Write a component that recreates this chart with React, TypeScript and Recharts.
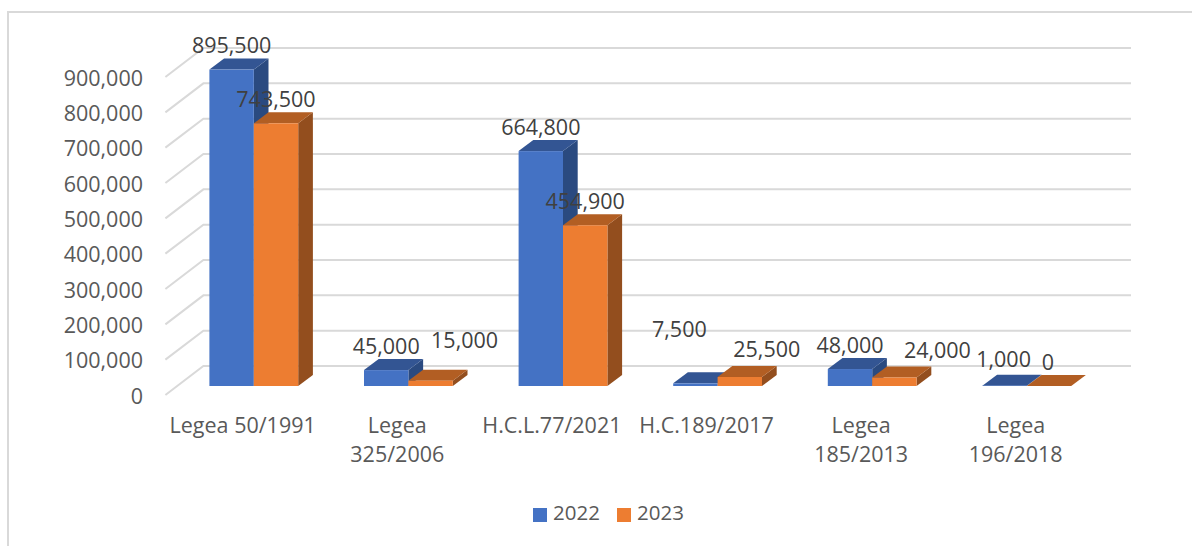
import { BarChart, Bar, XAxis, YAxis, CartesianGrid, Legend, LabelList } from 'recharts';

const categories = [
  'Legea 50/1991',
  'Legea\n325/2006',
  'H.C.L.77/2021',
  'H.C.189/2017',
  'Legea\n185/2013',
  'Legea\n196/2018',
];
const values2022 = [895500, 45000, 664800, 7500, 48000, 1000];
const values2023 = [743500, 15000, 454900, 25500, 24000, 0];
const yTicks = [0, 100000, 200000, 300000, 400000, 500000, 600000, 700000, 800000, 900000];

const chartData = categories.map((name, i) => ({
  name,
  y2022: values2022[i],
  y2023: values2023[i],
}));

const FONT = '"Open Sans", sans-serif';
const FONT_SIZE = 21.5;
const GRID = '#d9d9d9';

// 3D depth of the bars and of the floor
const DEPTH_X = 14.7;
const DEPTH_Y = 11;

// labels that were dragged away from their bars in the original
const nudge2022 = [[0, 0], [0, 0], [0, 0], [-16, -30], [0, 0], [-1, -2]];
const nudge2023 = [[0, 0], [34, -16], [0, 0], [27, -3], [43, -3], [-1, 0]];

const box = (top: string, side: string, front: string) => (props: any) => {
  const { x, y, width, height } = props;
  const r = x + width;
  const b = y + height;
  return (
    <g>
      <polygon
        points={`${r},${y} ${r + DEPTH_X},${y - DEPTH_Y} ${r + DEPTH_X},${b - DEPTH_Y} ${r},${b}`}
        fill={side}
      />
      <polygon
        points={`${x},${y} ${x + DEPTH_X},${y - DEPTH_Y} ${r + DEPTH_X},${y - DEPTH_Y} ${r},${y}`}
        fill={top}
      />
      <rect x={x} y={y} width={width} height={height} fill={front} />
    </g>
  );
};

const valueLabel = (nudges: number[][]) => (props: any) => {
  const { x, y, width, value, index } = props;
  const [dx, dy] = nudges[index];
  return (
    <text
      x={x + width / 2 + dx}
      y={y - 25 + dy}
      textAnchor="middle"
      dominantBaseline="central"
      fontFamily={FONT}
      fontSize={FONT_SIZE}
      fill="#404040"
    >
      {Number(value).toLocaleString('en-US')}
    </text>
  );
};

const YTick = ({ y, payload }: any) => (
  <text
    x={143}
    y={y + 9}
    textAnchor="end"
    dominantBaseline="central"
    fontFamily={FONT}
    fontSize={FONT_SIZE}
    fill="#595959"
  >
    {Number(payload.value).toLocaleString('en-US')}
  </text>
);

const XTick = ({ x, payload }: any) => (
  <text textAnchor="middle" fontFamily={FONT} fontSize={FONT_SIZE} fill="#595959">
    {String(payload.value)
      .split('\n')
      .map((line, i) => (
        <tspan key={i} x={x - 11} y={433 + i * 29}>
          {line}
        </tspan>
      ))}
  </text>
);

// floor edge going back to the wall, then the line along the wall
const gridLine = ({ x1, x2, y1, key }: any) => (
  <polyline
    key={key}
    points={`${x1 - 11},${y1 + 9} ${x1 + 27},${y1 - 20} ${x2 + 27},${y1 - 20}`}
    fill="none"
    stroke={GRID}
    strokeWidth={2}
  />
);

export default function App() {
  return (
    <div style={{ position: 'absolute', left: 0, top: 0, width: 1192, height: 546, background: '#fff', overflow: 'hidden' }}>
      <div
        style={{
          position: 'absolute',
          left: 7,
          top: 11,
          right: 0,
          bottom: 0,
          borderTop: `2px solid ${GRID}`,
          borderLeft: `2px solid ${GRID}`,
        }}
      />
      <BarChart
        width={1192}
        height={546}
        data={chartData}
        margin={{ top: 68, right: 88, bottom: 60, left: 100 }}
        barSize={44.4}
        barGap={0}
        style={{ position: 'absolute', left: 0, top: 0 }}
      >
        <CartesianGrid vertical={false} horizontal={gridLine} />
        <XAxis dataKey="name" interval={0} axisLine={false} tickLine={false} tick={XTick} height={72} />
        <YAxis
          width={76.4}
          domain={[0, 900000]}
          ticks={yTicks}
          interval={0}
          axisLine={false}
          tickLine={false}
          tick={YTick}
        />
        <Legend
          iconType="square"
          iconSize={14}
          wrapperStyle={{ left: 21, width: 1192, top: 498, fontFamily: FONT, fontSize: 20.5 }}
          formatter={(value: string) => <span style={{ color: '#595959', marginLeft: 2, marginRight: 7 }}>{value}</span>}
        />
        <Bar dataKey="y2022" name="2022" fill="#4472c4" isAnimationActive={false} shape={box('#335593', '#2a4a80', '#4472c4')}>
          <LabelList dataKey="y2022" content={valueLabel(nudge2022)} />
        </Bar>
        <Bar dataKey="y2023" name="2023" fill="#ed7d31" isAnimationActive={false} shape={box('#b25e23', '#934e1e', '#ed7d31')}>
          <LabelList dataKey="y2023" content={valueLabel(nudge2023)} />
        </Bar>
      </BarChart>
    </div>
  );
}
